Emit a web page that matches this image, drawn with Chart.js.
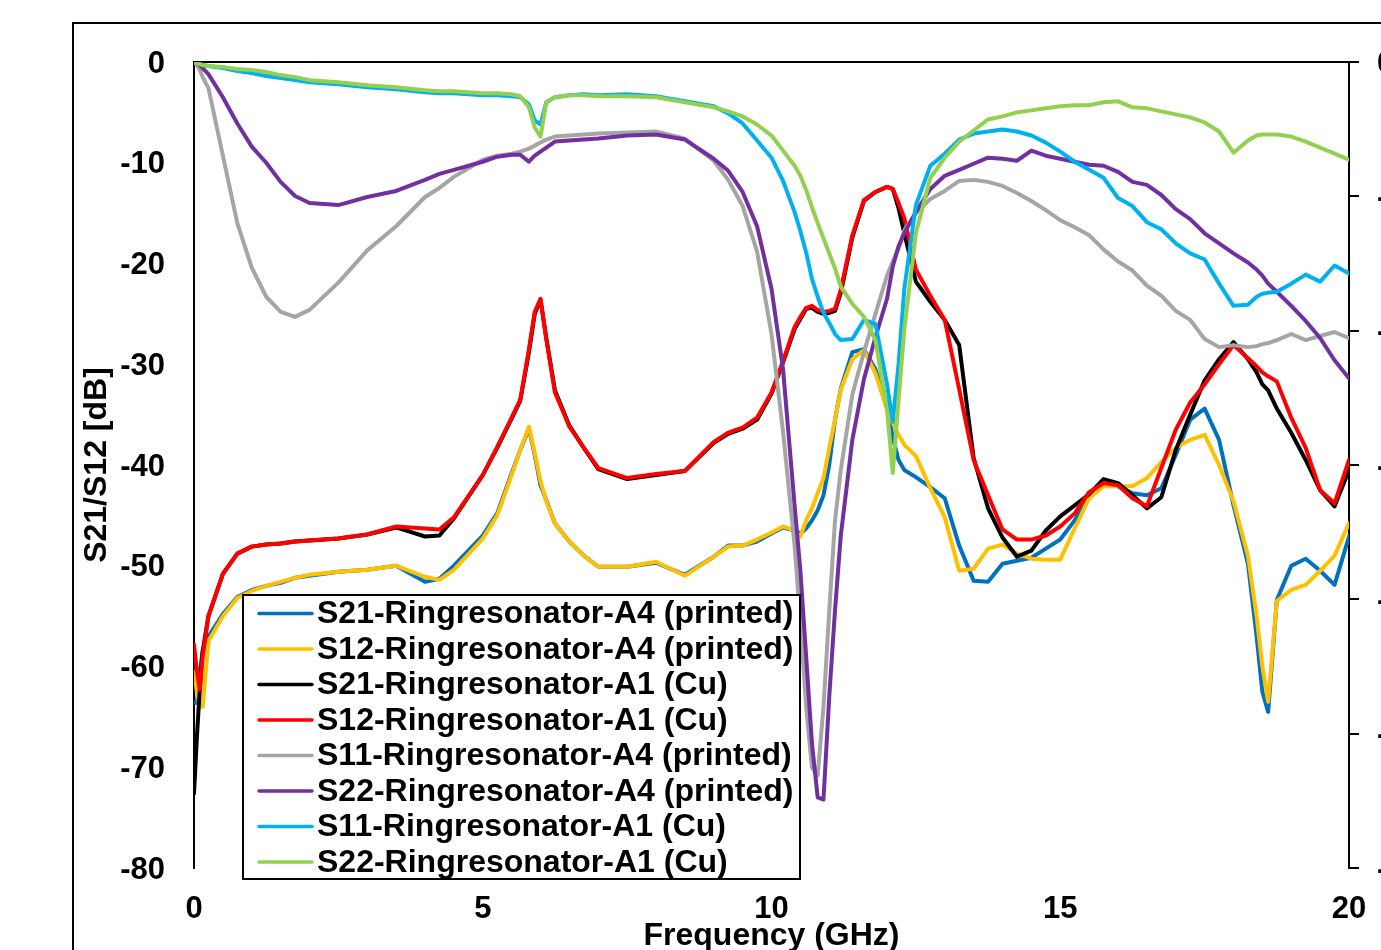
<!DOCTYPE html>
<html>
<head>
<meta charset="utf-8">
<title>Ringresonator S-parameters</title>
<script src="https://cdn.jsdelivr.net/npm/chart.js@4.4.1/dist/chart.umd.min.js"></script>
<style>
  html, body { margin: 0; padding: 0; background: #fff; overflow: hidden; }
  #wrap { position: absolute; left: 0; top: 0; width: 1440px; height: 950px; }
</style>
</head>
<body>
<div id="wrap"><canvas id="sparamChart"></canvas></div>
<script>
// frequency grid (GHz), denser around the resonances
const freqGHz = [0, 0.05, 0.1, 0.15, 0.25,
  0.5, 0.75, 1, 1.25, 1.5, 1.75, 2,
  2.5, 3, 3.5, 4,
  4.25, 4.5,
  5, 5.25, 5.5,
  5.65, 5.8, 5.9, 6, 6.1,
  6.25, 6.5, 6.75, 7,
  7.5, 8, 8.5, 9,
  9.25, 9.5, 9.75, 10,
  10.2, 10.4, 10.5, 10.6, 10.7, 10.8, 10.9,
  11, 11.1, 11.2,
  11.4, 11.6, 11.8, 12,
  12.1, 12.2, 12.3, 12.5,
  12.75, 13, 13.25, 13.5,
  13.75, 14, 14.25, 14.5, 14.75,
  15, 15.25, 15.5, 15.75,
  16, 16.25, 16.5, 16.75,
  17, 17.25, 17.5, 17.75,
  18, 18.25, 18.4, 18.5, 18.6,
  18.75, 19, 19.25, 19.5, 19.75, 20];

// dB values
const s21A4 = [-63.6, -63.6, -60.5, -58.5, -57.0,
  -54.8, -53.1, -52.4, -52.0, -51.7, -51.2, -51.0,
  -50.6, -50.4, -50.0, -51.6,
  -51.3, -50.0,
  -47.0, -44.8, -40.8,
  -38.5, -36.4, -39.0, -42.0, -43.5,
  -45.8, -47.6, -49.0, -50.1,
  -50.1, -49.7, -50.9, -49.1,
  -48.0, -48.0, -47.6, -46.8,
  -46.2, -46.5, -46.8, -46.3, -45.5, -44.5, -43.0,
  -40.0, -35.5, -32.4,
  -28.8, -28.5, -30.5, -34.0,
  -37.3, -39.5, -40.5, -41.2,
  -42.2, -43.3, -48.0, -51.5,
  -51.6, -49.8, -49.5, -49.2, -48.3,
  -47.4, -45.5, -43.0, -41.9,
  -42.1, -42.8, -43.0, -42.3,
  -39.0, -35.5, -34.4, -37.5,
  -44.0, -49.8, -57.0, -62.5, -64.5,
  -53.4, -50.0, -49.3, -50.5, -51.9, -47.1];

const s12A4 = [-60.5, -62.5, -64.0, -64.0, -57.5,
  -55.0, -53.2, -52.5, -52.0, -51.6, -51.2, -50.9,
  -50.6, -50.4, -50.0, -51.1,
  -51.4, -50.4,
  -47.3, -45.0, -41.0,
  -38.5, -36.2, -38.8, -41.6, -43.6,
  -45.8, -47.6, -49.0, -50.1,
  -50.1, -49.6, -51.0, -49.1,
  -48.1, -48.0, -47.4, -46.7,
  -46.1, -46.5, -47.1, -45.5, -44.3, -42.8, -41.3,
  -38.3, -35.5, -32.5,
  -29.5, -28.6, -30.9, -34.5,
  -35.8, -37.0, -38.0, -39.1,
  -42.3, -45.2, -50.5, -50.3,
  -48.3, -47.9, -48.8, -49.3, -49.4,
  -49.4, -46.3, -43.3, -42.1,
  -42.1, -42.1, -41.3, -39.7,
  -38.3, -37.5, -37.0, -40.0,
  -43.6, -49.0, -55.0, -60.0, -63.5,
  -53.5, -52.4, -51.9, -50.5, -49.0, -45.8];

const s21Cu = [-72.6, -67.0, -62.3, -58.5, -55.0,
  -50.8, -48.8, -48.1, -47.9, -47.8, -47.6, -47.5,
  -47.3, -46.9, -46.2, -47.1,
  -47.0, -45.3,
  -41.0, -38.3, -35.4,
  -33.6, -28.8, -25.0, -23.6, -27.4,
  -32.6, -36.1, -38.3, -40.4,
  -41.4, -41.0, -40.6, -37.8,
  -36.9, -36.4, -35.5, -32.9,
  -29.8, -26.5, -25.5, -24.5, -24.4, -24.8, -25.0,
  -24.9, -24.7, -22.9,
  -17.4, -13.8, -12.9, -12.4,
  -12.6, -14.5, -17.0, -21.8,
  -23.8, -25.6, -28.1, -39.3,
  -44.3, -47.2, -49.1, -48.5, -46.5,
  -45.1, -44.0, -42.9, -41.4,
  -41.8, -43.0, -44.3, -43.2,
  -38.5, -35.0, -31.6, -29.5,
  -27.8, -29.5, -30.8, -32.0, -32.6,
  -34.4, -36.8, -39.5, -42.5, -44.1, -40.5];

const s12Cu = [-57.8, -60.5, -62.3, -59.0, -55.0,
  -50.8, -48.8, -48.1, -47.9, -47.8, -47.6, -47.5,
  -47.3, -46.9, -46.1, -46.3,
  -46.4, -45.2,
  -41.0, -38.2, -35.3,
  -33.5, -28.5, -24.8, -23.5, -27.5,
  -32.8, -36.2, -38.3, -40.3,
  -41.3, -40.9, -40.6, -37.7,
  -36.8, -36.3, -35.3, -32.8,
  -29.7, -26.3, -25.3, -24.4, -24.2, -24.6, -24.8,
  -24.7, -24.5, -22.6,
  -17.2, -13.7, -12.9, -12.4,
  -12.6, -14.0, -15.5, -20.6,
  -23.2, -25.6, -32.5, -39.5,
  -43.0, -46.4, -47.4, -47.4, -47.0,
  -46.1, -44.8, -42.7, -41.8,
  -42.0, -43.3, -44.1, -40.3,
  -36.5, -33.8, -32.0, -30.0,
  -28.1, -29.4, -30.2, -30.8, -31.2,
  -31.7, -35.3, -38.3, -42.5, -43.8, -39.5];

const s11A4 = [0, -0.3, -0.8, -1.5, -2.6,
  -9.3, -16.0, -20.4, -23.3, -24.8, -25.3, -24.6,
  -21.9, -18.7, -16.3, -13.4,
  -12.5, -11.4,
  -9.7, -9.3, -9.1,
  -8.9, -8.6, -8.3, -8.0, -7.7,
  -7.4, -7.3, -7.2, -7.1,
  -7.0, -6.9, -7.6, -9.8,
  -11.7, -14.3, -18.8, -27.0,
  -36.7, -48.0, -55.5, -64.0, -70.0, -70.8, -64.0,
  -54.5, -45.5, -40.5,
  -33.0, -28.8, -25.0, -21.2,
  -19.8, -18.5, -16.7, -15.0,
  -13.6, -12.8, -11.8, -11.7,
  -11.9, -12.3, -13.0, -13.8, -14.7,
  -15.7, -16.4, -17.2, -18.6,
  -19.8, -20.7, -22.2, -23.2,
  -24.7, -25.6, -27.5, -28.3,
  -28.1, -28.3, -28.2, -28.0, -27.9,
  -27.6, -27.0, -27.6, -27.2, -26.8, -27.4];

const s22A4 = [0, -0.1, -0.3, -0.6, -1.2,
  -3.5, -6.1, -8.4, -10.0, -11.9, -13.3, -14.0,
  -14.2, -13.4, -12.8, -11.7,
  -11.1, -10.7,
  -9.9, -9.4, -9.2,
  -9.2, -9.9, -9.3, -8.9, -8.5,
  -7.9, -7.8, -7.7, -7.6,
  -7.3, -7.2, -7.7, -9.6,
  -10.8, -12.9, -16.3, -22.5,
  -30.5, -44.0, -50.5, -59.0, -67.6, -73.0, -73.2,
  -63.0, -54.4, -47.0,
  -37.5, -31.5, -27.3, -23.5,
  -20.3, -18.3, -17.0, -14.9,
  -12.6, -11.3, -10.7, -10.1,
  -9.5, -9.6, -9.8, -8.8, -9.3,
  -9.6, -9.9, -10.2, -10.3,
  -10.9, -11.9, -12.2, -13.2,
  -14.6, -15.6, -17.0, -18.0,
  -19.0, -19.9, -20.6, -21.2, -22.0,
  -22.8, -24.2, -25.7, -27.4, -29.6, -31.4];

const s11Cu = [0, -0.1, -0.2, -0.3, -0.4,
  -0.6, -0.9, -1.1, -1.4, -1.6, -1.8, -2.0,
  -2.2, -2.5, -2.7, -3.0,
  -3.1, -3.1,
  -3.3, -3.3, -3.4,
  -3.5, -4.2, -5.8, -6.2, -4.0,
  -3.5, -3.3, -3.2, -3.3,
  -3.2, -3.4, -3.9, -4.4,
  -5.1, -6.1, -7.8, -9.5,
  -11.8, -14.9, -16.8, -18.9, -21.5, -23.3, -24.9,
  -25.9, -27.0, -27.6,
  -27.5, -25.6, -26.0, -32.0,
  -35.7, -30.0, -22.5, -14.2,
  -10.3, -9.1, -7.7, -7.1,
  -6.9, -6.7, -6.9, -7.3, -8.0,
  -8.9, -9.9, -10.7, -11.5,
  -13.5, -14.3, -15.9, -16.6,
  -18.0, -19.0, -19.6, -22.0,
  -24.2, -24.1, -23.3, -23.0, -22.9,
  -22.8, -22.0, -21.1, -21.8, -20.2, -21.0];

const s22Cu = [0, -0.1, -0.2, -0.3, -0.4,
  -0.5, -0.7, -0.8, -1.0, -1.3, -1.5, -1.8,
  -2.0, -2.3, -2.5, -2.8,
  -2.9, -2.9,
  -3.1, -3.1, -3.2,
  -3.4, -4.5, -6.5, -7.4, -4.0,
  -3.5, -3.3, -3.3, -3.4,
  -3.4, -3.5, -4.0, -4.5,
  -4.9, -5.4, -6.2, -7.3,
  -8.8, -10.3, -11.3, -12.7, -14.4, -16.0, -17.5,
  -19.0, -20.5, -22.3,
  -24.0, -25.3, -27.6, -34.5,
  -40.8, -33.5, -26.5, -17.0,
  -11.5, -9.5, -7.9, -6.8,
  -5.7, -5.4, -5.0, -4.8, -4.6,
  -4.4, -4.3, -4.3, -4.0,
  -3.9, -4.5, -4.6, -4.9,
  -5.2, -5.5, -6.0, -6.9,
  -9.0, -7.8, -7.3, -7.2, -7.2,
  -7.2, -7.4, -7.9, -8.5, -9.1, -9.7];

const seriesNames = [
  'S21-Ringresonator-A4 (printed)',
  'S12-Ringresonator-A4 (printed)',
  'S21-Ringresonator-A1 (Cu)',
  'S12-Ringresonator-A1 (Cu)',
  'S11-Ringresonator-A4 (printed)',
  'S22-Ringresonator-A4 (printed)',
  'S11-Ringresonator-A1 (Cu)',
  'S22-Ringresonator-A1 (Cu)'
];
const seriesValues = [s21A4, s12A4, s21Cu, s12Cu, s11A4, s22A4, s11Cu, s22Cu];
const seriesColors = ['#0070C0', '#FFC000', '#000000', '#FF0000', '#A5A5A5', '#7030A0', '#00B0F0', '#92D050'];

const FONT = 'Arial, "Liberation Sans", sans-serif';

// Excel style chart frame + top border of the plot area
const frames = {
  id: 'frames',
  beforeDatasetsDraw(chart) {
    const ctx = chart.ctx;
    const a = chart.chartArea;
    ctx.save();
    ctx.strokeStyle = '#000';
    ctx.lineWidth = 2;
    ctx.beginPath();
    ctx.moveTo(73, 1200);
    ctx.lineTo(73, 23);
    ctx.lineTo(1600, 23);
    ctx.stroke();
    ctx.beginPath();
    ctx.moveTo(a.left, a.top);
    ctx.lineTo(a.right, a.top);
    ctx.stroke();
    ctx.restore();
  }
};

// boxed legend inside the plot, lower left
const boxLegend = {
  id: 'boxLegend',
  afterDatasetsDraw(chart) {
    const ctx = chart.ctx;
    ctx.save();
    ctx.fillStyle = '#fff';
    ctx.fillRect(243, 595, 557, 284);
    ctx.lineWidth = 2;
    ctx.strokeStyle = '#000';
    ctx.strokeRect(243, 595, 557, 284);
    ctx.font = 'bold 32px ' + FONT;
    ctx.textBaseline = 'middle';
    ctx.lineCap = 'round';
    chart.data.datasets.forEach((ds, i) => {
      const y = 613.5 + i * 35.5;
      ctx.strokeStyle = ds.borderColor;
      ctx.lineWidth = 3.5;
      ctx.beginPath();
      ctx.moveTo(259, y);
      ctx.lineTo(312, y);
      ctx.stroke();
      ctx.fillStyle = '#000';
      ctx.fillText(ds.label, 317, y + 1);
    });
    ctx.restore();
  }
};

const tickFont = { family: FONT, size: 31, weight: 'bold' };
const titleFont = { family: FONT, size: 32, weight: 'bold', lineHeight: 1 };

new Chart(document.getElementById('sparamChart'), {
  type: 'line',
  data: {
    datasets: seriesValues.map((vals, i) => ({
      label: seriesNames[i],
      data: freqGHz.map((f, k) => ({ x: f, y: vals[k] })),
      borderColor: seriesColors[i],
      backgroundColor: seriesColors[i],
      borderWidth: 4,
      pointRadius: 0,
      tension: 0,
      fill: false,
      borderJoinStyle: 'round',
      borderCapStyle: 'round',
      yAxisID: 'y',
      order: 7 - i
    }))
  },
  options: {
    responsive: true,
    maintainAspectRatio: false,
    animation: false,
    layout: { padding: { top: 62, left: 0, right: 0, bottom: 0 } },
    plugins: {
      legend: { display: false },
      tooltip: { enabled: false }
    },
    scales: {
      x: {
        type: 'linear',
        position: 'bottom',
        min: 0,
        max: 20,
        ticks: { stepSize: 5, color: '#000', font: tickFont, padding: 23, maxRotation: 0 },
        grid: { display: false, drawTicks: false },
        border: { display: false },
        title: { display: true, text: 'Frequency (GHz)', color: '#000', font: titleFont, padding: { top: 0, bottom: -2 } },
        afterFit(s) { s.height = 82; }
      },
      y: {
        position: 'left',
        min: -80,
        max: 0,
        ticks: { stepSize: 10, color: '#000', font: tickFont, padding: 29, labelOffset: 2 },
        grid: { display: false, drawTicks: false },
        border: { display: true, color: '#000', width: 2 },
        title: { display: true, text: 'S21/S12 [dB]', color: '#000', font: titleFont, padding: { top: 81, bottom: 0 } },
        afterFit(s) { s.width = 194; }
      },
      y2: {
        position: 'right',
        min: -60,
        max: 0,
        ticks: { stepSize: 10, color: '#000', font: tickFont, padding: 18, labelOffset: 2 },
        grid: { display: true, drawOnChartArea: false, drawTicks: true, tickLength: 10, color: '#000', lineWidth: 2 },
        border: { display: true, color: '#000', width: 2 },
        afterFit(s) { s.width = 91; }
      }
    }
  },
  plugins: [frames, boxLegend]
});
</script>
</body>
</html>
